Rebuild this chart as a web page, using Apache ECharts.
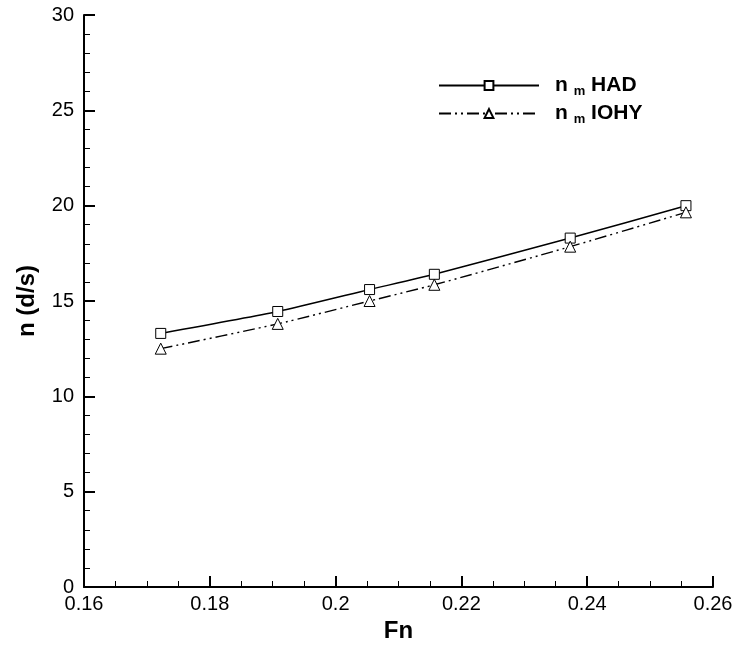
<!DOCTYPE html>
<html>
<head>
<meta charset="utf-8">
<script src="https://cdn.jsdelivr.net/npm/echarts@6/dist/echarts.min.js"></script>
<style>
  html, body { margin: 0; padding: 0; background: #fff; }
  #chart { width: 739px; height: 648px; }
</style>
</head>
<body>
<div id="chart"></div>
<script>
// Fn values
let fnList = [0.1722, 0.1908, 0.2054, 0.2157, 0.2373, 0.2557];
let hadList = [13.3, 14.45, 15.6, 16.4, 18.3, 20.0];
let iohyList = [12.5, 13.8, 15.0, 15.85, 17.85, 19.65];
let seriesNames = ['HAD', 'IOHY'];

let chart = echarts.init(document.getElementById('chart'));
const font = 'Liberation Sans, Arial, sans-serif';

function pairs(xs, ys) {
  return xs.map((x, i) => [x, ys[i]]);
}

let option = {
  animation: false,
  backgroundColor: '#fff',
  grid: { left: 84, right: 26, top: 15, bottom: 61 },
  legend: {
    left: 433,
    top: 70,
    orient: 'vertical',
    itemWidth: 100,
    itemHeight: 11,
    itemGap: 5,
    data: seriesNames,
    formatter: function (name) {
      return '{g|}{b|n }{s|m}{b| ' + name + '}';
    },
    textStyle: {
      fontFamily: font,
      color: '#000',
      rich: {
        g: { width: 11 },
        b: { fontFamily: font, fontWeight: 'bold', fontSize: 21, color: '#000' },
        s: { fontFamily: font, fontWeight: 'bold', fontSize: 13, color: '#000', padding: [12, 0, 0, 0] }
      }
    }
  },
  xAxis: {
    type: 'value',
    min: 0.16,
    max: 0.26,
    interval: 0.02,
    name: 'Fn',
    nameLocation: 'middle',
    nameGap: 32,
    nameTextStyle: { fontFamily: font, fontWeight: 'bold', fontSize: 24, color: '#000' },
    axisLine: { onZero: false, lineStyle: { color: '#000', width: 2 } },
    axisTick: { inside: true, length: 11, lineStyle: { color: '#000', width: 2 } },
    minorTick: { show: true, splitNumber: 4, length: 6, lineStyle: { color: '#000', width: 1 } },
    axisLabel: { fontFamily: font, fontSize: 20, color: '#000', margin: 7,
      formatter: v => String(+v.toFixed(2)) },
    splitLine: { show: false }
  },
  yAxis: {
    type: 'value',
    min: 0,
    max: 30,
    interval: 5,
    name: 'n (d/s)',
    nameLocation: 'middle',
    nameGap: 45,
    nameTextStyle: { fontFamily: font, fontWeight: 'bold', fontSize: 24, color: '#000' },
    axisLine: { show: true, lineStyle: { color: '#000', width: 2 } },
    axisTick: { inside: true, length: 11, lineStyle: { color: '#000', width: 2 } },
    minorTick: { show: true, splitNumber: 5, length: 6, lineStyle: { color: '#000', width: 1 } },
    axisLabel: { fontFamily: font, fontSize: 20, color: '#000', margin: 10 },
    splitLine: { show: false }
  },
  series: [
    {
      name: seriesNames[0],
      type: 'line',
      smooth: 0.2,
      data: pairs(fnList, hadList),
      symbol: 'rect',
      symbolSize: 10,
      itemStyle: { color: '#fff', borderColor: '#000', borderWidth: 1 },
      lineStyle: { color: '#000', width: 1.5 }
    },
    {
      name: seriesNames[1],
      type: 'line',
      smooth: 0.2,
      data: pairs(fnList, iohyList),
      symbol: 'triangle',
      symbolSize: 11,
      itemStyle: { color: '#fff', borderColor: '#000', borderWidth: 1 },
      lineStyle: { color: '#000', width: 1.4, type: [12, 4, 2, 4, 2, 4] }
    }
  ]
};

chart.setOption(option);
</script>
</body>
</html>
